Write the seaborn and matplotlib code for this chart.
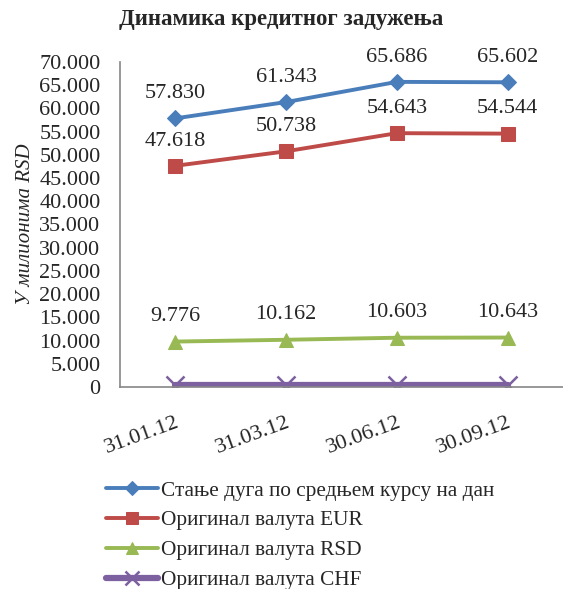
import pandas as pd
import seaborn as sns
import matplotlib.pyplot as plt
from matplotlib.ticker import FixedLocator, FuncFormatter

# === Data ===
dates = ["31.01.12", "31.03.12", "30.06.12", "30.09.12"]
total_debt = [57830, 61343, 65686, 65602]
eur_debt = [47618, 50738, 54643, 54544]
rsd_debt = [9776, 10162, 10603, 10643]
chf_debt = [420, 420, 420, 420]

series_names = [
    "Стање дуга по средњем курсу на дан",
    "Оригинал валута EUR",
    "Оригинал валута RSD",
    "Оригинал валута CHF",
]
colors = ["#4A7EBB", "#BE4B48", "#98B954", "#7D60A0"]
markers = ["D", "s", "^", "x"]

sns.set_style("white")
plt.rcParams["font.family"] = ["Liberation Serif", "DejaVu Serif"]

rows = []
for name, vals in zip(series_names, [total_debt, eur_debt, rsd_debt, chf_debt]):
    for i, (d, v) in enumerate(zip(dates, vals)):
        rows.append({"pos": i, "date": d, "value": v, "series": name})
df = pd.DataFrame(rows)

fig = plt.figure(figsize=(5.63, 5.89), dpi=100)
ax = fig.add_axes([0.213, 0.343, 0.787, 0.552])

for name, col, mk in zip(series_names, colors, markers):
    sub = df[df["series"] == name]
    if mk == "x":
        sns.lineplot(data=sub, x="pos", y="value", color=col, lw=4.5, marker="x",
                     markersize=13, mew=1.8, mec=col, ax=ax, label=name)
    else:
        sns.lineplot(data=sub, x="pos", y="value", color=col, lw=2.8, marker=mk,
                     markersize=10 if mk != "D" else 8.5, mec=col, mfc=col, ax=ax, label=name)

# === Data labels ===
for vals in [total_debt, eur_debt, rsd_debt]:
    for i, v in enumerate(vals):
        ax.annotate(f"{v/1000:.3f}", (i, v), xytext=(0, 11), textcoords="offset points",
                    ha="center", va="bottom", fontsize=16)

# === Axes ===
ax.set_xlim(-0.5, 3.5)
ax.set_ylim(0, 70000)
ax.yaxis.set_major_locator(FixedLocator(range(0, 70001, 5000)))
ax.yaxis.set_major_formatter(FuncFormatter(lambda v, p: "0" if v == 0 else f"{v/1000:.3f}"))
ax.set_xticks(range(len(dates)))
ax.set_xticklabels(dates, rotation=20, ha="right", rotation_mode="anchor", fontsize=16)
ax.xaxis.set_minor_locator(FixedLocator([-0.5, 0.5, 1.5, 2.5, 3.5]))
ax.tick_params(axis="x", which="major", length=0, pad=19)
ax.tick_params(axis="x", which="minor", length=5, color="#868686", direction="out")
ax.tick_params(axis="y", length=5, color="#868686", direction="out", labelsize=16, pad=9)
for s in ["top", "right"]:
    ax.spines[s].set_visible(False)
for s in ["left", "bottom"]:
    ax.spines[s].set_color("#868686")
    ax.spines[s].set_linewidth(1.2)
ax.set_xlabel("")
ax.set_ylabel("У милионима RSD", fontsize=15, style="italic", labelpad=3)

fig.suptitle("Динамика кредитног задужења", fontsize=16.5, fontweight="bold", y=0.985)

leg = ax.legend(loc="upper left", bbox_to_anchor=(-0.05, -0.262), frameon=False, fontsize=15.3,
                handlelength=2.45, handletextpad=0.12, labelspacing=0.47, borderaxespad=0,
                markerscale=0.8)

fig.savefig("out.png", dpi=100)
